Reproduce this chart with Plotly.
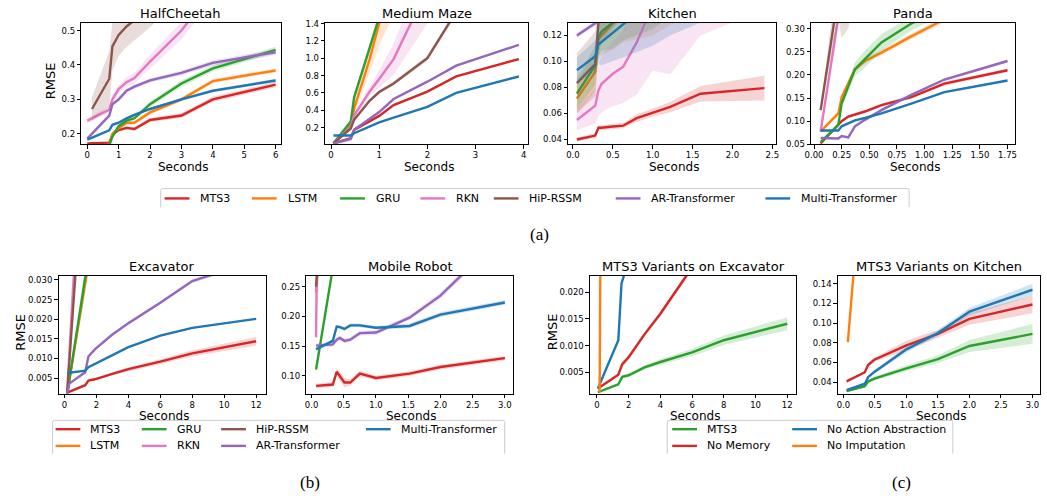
import plotly.graph_objects as go

# ---------------- colours ----------------
C_RED, C_ORANGE, C_GREEN, C_PINK = "#d62728", "#ff7f0e", "#2ca02c", "#e377c2"
C_BROWN, C_PURPLE, C_BLUE = "#8c564b", "#9467bd", "#1f77b4"

# ---------------- legend names ----------------
MODEL_NAMES = ["MTS3", "LSTM", "GRU", "RKN", "HiP-RSSM", "AR-Transformer", "Multi-Transformer"]
MODEL_COLORS = [C_RED, C_ORANGE, C_GREEN, C_PINK, C_BROWN, C_PURPLE, C_BLUE]
VARIANT_NAMES = ["MTS3", "No Memory", "No Action Abstraction", "No Imputation"]
VARIANT_COLORS = [C_GREEN, C_RED, C_BLUE, C_ORANGE]

# ---------------- HalfCheetah ----------------
HC_X = [0.0, 0.7, 0.8, 1.0, 1.25, 1.5, 2.0, 3.0, 4.0, 6.0]
HC_X_HIP = [0.15, 0.7, 0.8, 1.0, 1.25, 1.5, 2.0, 3.0, 4.0, 6.0]
HC_MTS3 = [0.172, 0.174, 0.197, 0.211, 0.217, 0.214, 0.240, 0.253, 0.300, 0.343]
HC_MTS3_SD = [0.003, 0.003, 0.004, 0.004, 0.005, 0.005, 0.006, 0.007, 0.008, 0.008]
HC_LSTM = [0.165, 0.166, 0.200, 0.216, 0.232, 0.232, 0.262, 0.300, 0.353, 0.384]
HC_LSTM_SD = [0.003, 0.003, 0.004, 0.005, 0.005, 0.005, 0.006, 0.006, 0.006, 0.006]
HC_GRU = [0.165, 0.166, 0.192, 0.222, 0.238, 0.245, 0.286, 0.346, 0.390, 0.444]
HC_GRU_SD = [0.003, 0.003, 0.004, 0.005, 0.006, 0.006, 0.008, 0.009, 0.009, 0.009]
HC_RKN = [0.238, 0.270, 0.300, 0.330, 0.350, 0.362, 0.410, 0.500, 0.620, 0.800]
HC_RKN_SD = [0.008, 0.010, 0.012, 0.012, 0.014, 0.015, 0.020, 0.025, 0.030, 0.040]
HC_HIP = [0.272, 0.360, 0.454, 0.487, 0.512, 0.530, 0.580, 0.680, 0.780, 0.980]
HC_HIP_SD = [0.035, 0.080, 0.070, 0.060, 0.060, 0.060, 0.070, 0.080, 0.090, 0.100]
HC_AR = [0.186, 0.253, 0.286, 0.300, 0.325, 0.337, 0.355, 0.377, 0.406, 0.437]
HC_AR_SD = [0.004, 0.005, 0.005, 0.006, 0.006, 0.006, 0.006, 0.007, 0.008, 0.008]
HC_MULTI = [0.183, 0.210, 0.226, 0.232, 0.245, 0.255, 0.272, 0.300, 0.325, 0.355]
HC_MULTI_SD = [0.003, 0.003, 0.004, 0.004, 0.004, 0.004, 0.004, 0.004, 0.004, 0.005]

# ---------------- Medium Maze ----------------
MM_X = [0.05, 0.41, 0.48, 0.8, 1.0, 1.3, 2.0, 2.6, 3.9]
MM_MTS3 = [0.02, 0.08, 0.175, 0.275, 0.336, 0.46, 0.615, 0.79, 0.99]
MM_MTS3_SD = [0.005, 0.008, 0.01, 0.01, 0.01, 0.01, 0.01, 0.01, 0.012]
MM_LSTM = [0.02, 0.23, 0.42, 0.985, 1.40, 1.90, 2.80, 3.40, 4.50]
MM_LSTM_SD = [0.01, 0.03, 0.06, 0.15, 0.25, 0.40, 0.50, 0.60, 0.70]
MM_GRU = [0.02, 0.27, 0.55, 1.12, 1.47, 2.00, 3.00, 3.60, 4.80]
MM_GRU_SD = [0.01, 0.02, 0.03, 0.04, 0.05, 0.06, 0.08, 0.10, 0.12]
MM_RKN = [0.02, 0.21, 0.34, 0.615, 0.76, 0.99, 1.80, 2.50, 3.50]
MM_RKN_SD = [0.01, 0.02, 0.03, 0.06, 0.10, 0.18, 0.40, 0.45, 0.50]
MM_HIP = [0.02, 0.19, 0.29, 0.51, 0.61, 0.71, 1.00, 1.54, 2.70]
MM_HIP_SD = [0.01, 0.015, 0.02, 0.02, 0.02, 0.025, 0.03, 0.04, 0.05]
MM_AR = [0.02, 0.07, 0.175, 0.30, 0.38, 0.53, 0.73, 0.915, 1.155]
MM_AR_SD = [0.02, 0.02, 0.015, 0.01, 0.01, 0.01, 0.01, 0.01, 0.012]
MM_MULTI = [0.11, 0.11, 0.136, 0.21, 0.26, 0.315, 0.44, 0.60, 0.79]
MM_MULTI_SD = [0.005, 0.005, 0.005, 0.005, 0.005, 0.005, 0.006, 0.006, 0.008]

# ---------------- Kitchen ----------------
KI_X = [0.05, 0.28, 0.32, 0.36, 0.5, 0.63, 0.8, 1.0, 1.22, 1.6, 2.4]
KI_MTS3 = [0.040, 0.043, 0.049, 0.049, 0.050, 0.0506, 0.0564, 0.0606, 0.065, 0.0752, 0.0795]
KI_MTS3_SD = [0.0015, 0.002, 0.002, 0.002, 0.002, 0.002, 0.003, 0.003, 0.004, 0.006, 0.0095]
KI_LSTM = [0.0714, 0.092, 0.117, 0.120, 0.129, 0.135, 0.142, 0.150, 0.158, 0.170, 0.190]
KI_LSTM_SD = [0.012, 0.015, 0.015, 0.015, 0.020, 0.020, 0.025, 0.030, 0.030, 0.030, 0.030]
KI_GRU = [0.0752, 0.097, 0.119, 0.123, 0.130, 0.136, 0.145, 0.155, 0.165, 0.180, 0.200]
KI_GRU_SD = [0.012, 0.015, 0.015, 0.015, 0.020, 0.020, 0.025, 0.030, 0.030, 0.030, 0.030]
KI_RKN = [0.055, 0.066, 0.0777, 0.0828, 0.0905, 0.096, 0.1146, 0.143, 0.150, 0.165, 0.190]
KI_RKN_SD = [0.008, 0.014, 0.020, 0.022, 0.025, 0.028, 0.040, 0.050, 0.060, 0.045, 0.050]
KI_HIP = [0.0833, 0.098, 0.130, 0.140, 0.155, 0.165, 0.175, 0.185, 0.190, 0.200, 0.210]
KI_HIP_SD = [0.023, 0.025, 0.025, 0.025, 0.030, 0.030, 0.030, 0.030, 0.030, 0.030, 0.030]
KI_AR = [0.120, 0.1295, 0.131, 0.134, 0.140, 0.145, 0.150, 0.155, 0.160, 0.170, 0.180]
KI_AR_SD = [0.002, 0.002, 0.002, 0.002, 0.003, 0.003, 0.003, 0.003, 0.003, 0.003, 0.003]
KI_MULTI = [0.0933, 0.104, 0.113, 0.115, 0.1224, 0.129, 0.137, 0.142, 0.150, 0.160, 0.175]
KI_MULTI_SD = [0.010, 0.012, 0.015, 0.018, 0.022, 0.026, 0.030, 0.030, 0.030, 0.030, 0.030]

# ---------------- Panda ----------------
PA_X = [0.06, 0.22, 0.25, 0.31, 0.37, 0.46, 0.61, 0.88, 1.18, 1.75]
PA_MTS3 = [0.052, 0.094, 0.100, 0.110, 0.1145, 0.121, 0.135, 0.152, 0.181, 0.210]
PA_MTS3_SD = [0.002, 0.002, 0.003, 0.003, 0.003, 0.003, 0.003, 0.003, 0.004, 0.004]
PA_LSTM = [0.078, 0.117, 0.152, 0.182, 0.212, 0.230, 0.248, 0.283, 0.320, 0.380]
PA_LSTM_SD = [0.003, 0.004, 0.005, 0.005, 0.005, 0.006, 0.006, 0.006, 0.006, 0.006]
PA_GRU = [0.055, 0.092, 0.138, 0.175, 0.212, 0.234, 0.270, 0.311, 0.340, 0.400]
PA_GRU_SD = [0.003, 0.005, 0.008, 0.012, 0.015, 0.018, 0.018, 0.015, 0.010, 0.010]
PA_RKN = [0.078, 0.330, 0.370, 0.420, 0.460, 0.500, 0.550, 0.600, 0.650, 0.700]
PA_RKN_SD = [0.003, 0.010, 0.010, 0.010, 0.010, 0.010, 0.010, 0.010, 0.010, 0.010]
PA_HIP = [0.124, 0.380, 0.420, 0.450, 0.480, 0.500, 0.530, 0.560, 0.600, 0.650]
PA_HIP_SD = [0.005, 0.060, 0.140, 0.150, 0.120, 0.100, 0.100, 0.100, 0.100, 0.100]
PA_AR = [0.064, 0.0627, 0.068, 0.065, 0.089, 0.103, 0.124, 0.157, 0.190, 0.230]
PA_AR_SD = [0.002, 0.002, 0.002, 0.002, 0.003, 0.003, 0.003, 0.003, 0.003, 0.003]
PA_MULTI = [0.080, 0.080, 0.089, 0.095, 0.102, 0.107, 0.117, 0.138, 0.163, 0.188]
PA_MULTI_SD = [0.002, 0.002, 0.002, 0.002, 0.002, 0.002, 0.002, 0.002, 0.002, 0.002]

# ---------------- Excavator ----------------
EX_X = [0.17, 1.3, 1.5, 1.9, 3.0, 4.0, 6.0, 8.0, 12.0]
EX_X_AR = [0.17, 0.3, 1.3, 1.5, 1.9, 3.0, 4.0, 6.0, 8.0, 12.0]
EX_MTS3 = [0.0013, 0.0032, 0.0044, 0.0047, 0.0061, 0.0073, 0.0092, 0.0113, 0.0144]
EX_MTS3_SD = [0.0002, 0.0003, 0.0003, 0.0003, 0.0004, 0.0005, 0.0006, 0.0008, 0.0011]
EX_LSTM = [0.0010, 0.0290, 0.0340, 0.0420, 0.0600, 0.0700, 0.0900, 0.1000, 0.1200]
EX_LSTM_SD = [0.0002, 0.0010, 0.0010, 0.0010, 0.0010, 0.0010, 0.0010, 0.0010, 0.0010]
EX_GRU = [0.0010, 0.0315, 0.0360, 0.0450, 0.0600, 0.0700, 0.0900, 0.1000, 0.1200]
EX_GRU_SD = [0.0002, 0.0010, 0.0010, 0.0010, 0.0010, 0.0010, 0.0010, 0.0010, 0.0010]
EX_RKN = [0.0010, 0.0830, 0.0900, 0.1000, 0.1200, 0.1300, 0.1500, 0.1700, 0.2000]
EX_RKN_SD = [0.0005, 0.0030, 0.0030, 0.0030, 0.0030, 0.0030, 0.0030, 0.0030, 0.0030]
EX_HIP = [0.0013, 0.0670, 0.0750, 0.0850, 0.1000, 0.1100, 0.1300, 0.1500, 0.1800]
EX_HIP_SD = [0.0003, 0.0020, 0.0020, 0.0020, 0.0020, 0.0020, 0.0020, 0.0020, 0.0020]
EX_AR = [0.0010, 0.0036, 0.0065, 0.0105, 0.0123, 0.0161, 0.0190, 0.0242, 0.0297, 0.0350]
EX_AR_SD = [0.0002, 0.0002, 0.0003, 0.0003, 0.0003, 0.0003, 0.0004, 0.0004, 0.0005, 0.0006]
EX_MULTI = [0.0063, 0.0069, 0.0078, 0.0086, 0.0107, 0.0129, 0.0158, 0.0178, 0.0201]
EX_MULTI_SD = [0.0002, 0.0002, 0.0002, 0.0002, 0.0002, 0.0002, 0.0002, 0.0002, 0.0002]

# ---------------- Mobile Robot ----------------
MR_X = [0.07, 0.33, 0.39, 0.44, 0.51, 0.6, 0.75, 1.0, 1.52, 2.0, 3.0]
MR_MTS3 = [0.0834, 0.0856, 0.107, 0.0995, 0.089, 0.089, 0.104, 0.0967, 0.104, 0.115, 0.130]
MR_MTS3_SD = [0.004, 0.004, 0.006, 0.008, 0.008, 0.005, 0.005, 0.004, 0.004, 0.004, 0.004]
MR_LSTM = [0.240, 1.200, 1.300, 1.400, 1.500, 1.600, 1.700, 1.800, 1.900, 2.000, 2.100]
MR_LSTM_SD = [0.005, 0.020, 0.020, 0.020, 0.020, 0.020, 0.020, 0.020, 0.020, 0.020, 0.020]
MR_GRU = [0.111, 0.284, 0.320, 0.350, 0.400, 0.450, 0.500, 0.550, 0.600, 0.650, 0.700]
MR_GRU_SD = [0.004, 0.006, 0.006, 0.006, 0.006, 0.006, 0.006, 0.006, 0.006, 0.006, 0.006]
MR_RKN = [0.165, 3.000, 3.100, 3.200, 3.300, 3.400, 3.500, 3.600, 3.700, 3.800, 3.900]
MR_RKN_SD = [0.010, 0.050, 0.050, 0.050, 0.050, 0.050, 0.050, 0.050, 0.050, 0.050, 0.050]
MR_HIP = [0.250, 1.500, 1.600, 1.700, 1.800, 1.900, 2.000, 2.100, 2.200, 2.300, 2.400]
MR_HIP_SD = [0.005, 0.020, 0.020, 0.020, 0.020, 0.020, 0.020, 0.020, 0.020, 0.020, 0.020]
MR_AR = [0.151, 0.153, 0.161, 0.164, 0.159, 0.161, 0.172, 0.173, 0.198, 0.235, 0.340]
MR_AR_SD = [0.004, 0.004, 0.004, 0.004, 0.004, 0.004, 0.004, 0.004, 0.004, 0.005, 0.006]
MR_MULTI = [0.145, 0.159, 0.183, 0.182, 0.179, 0.185, 0.185, 0.181, 0.184, 0.203, 0.2235]
MR_MULTI_SD = [0.003, 0.003, 0.003, 0.003, 0.003, 0.003, 0.003, 0.003, 0.004, 0.004, 0.004]

# ---------------- MTS3 variants on Excavator ----------------
VE_X = [0.06, 1.35, 1.6, 2.0, 3.0, 4.0, 6.0, 8.0, 12.0]
VE_X_NOACT = [0.06, 1.35, 1.55, 2.0, 3.0, 4.0, 6.0, 8.0, 12.0]
VE_X_NOIMP = [0.17, 1.35, 2.0, 4.0, 8.0, 12.0]
VE_MTS3 = [0.0012, 0.0027, 0.0041, 0.0044, 0.0059, 0.0069, 0.0087, 0.0110, 0.0141]
VE_MTS3_SD = [0.0002, 0.0003, 0.0003, 0.0003, 0.0004, 0.0005, 0.0007, 0.0009, 0.0012]
VE_NOMEM = [0.0019, 0.0045, 0.0065, 0.0078, 0.0121, 0.0160, 0.0247, 0.0320, 0.0450]
VE_NOMEM_SD = [0.0002, 0.0003, 0.0005, 0.0005, 0.0004, 0.0005, 0.0006, 0.0008, 0.0010]
VE_NOACT = [0.0019, 0.0110, 0.0217, 0.0260, 0.0300, 0.0350, 0.0400, 0.0450, 0.0500]
VE_NOACT_SD = [0.0001, 0.0002, 0.0002, 0.0002, 0.0002, 0.0002, 0.0002, 0.0002, 0.0002]
VE_NOIMP = [0.0012, 0.6000, 0.7000, 0.8000, 0.9000, 1.0000]
VE_NOIMP_SD = [0.0001, 0.0010, 0.0010, 0.0010, 0.0010, 0.0010]

# ---------------- MTS3 variants on Kitchen ----------------
VK_X = [0.05, 0.34, 0.39, 0.49, 1.0, 1.5, 2.0, 3.0]
VK_X_NOIMP = [0.07, 0.34, 1.0, 2.0, 3.0]
VK_MTS3 = [0.0307, 0.0357, 0.0405, 0.0434, 0.054, 0.0633, 0.0767, 0.089]
VK_MTS3_SD = [0.001, 0.0015, 0.0015, 0.002, 0.003, 0.004, 0.006, 0.010]
VK_NOMEM = [0.0407, 0.050, 0.0573, 0.0627, 0.0773, 0.089, 0.1043, 0.119]
VK_NOMEM_SD = [0.001, 0.0015, 0.002, 0.002, 0.005, 0.004, 0.006, 0.009]
VK_NOACT = [0.0317, 0.0383, 0.045, 0.0503, 0.0733, 0.090, 0.1117, 0.134]
VK_NOACT_SD = [0.001, 0.0015, 0.002, 0.002, 0.003, 0.003, 0.004, 0.006]
VK_NOIMP = [0.0807, 0.290, 0.600, 0.900, 1.200]
VK_NOIMP_SD = [0.002, 0.006, 0.010, 0.010, 0.010]

# ---------------- figure geometry (pixels) ----------------
W, H = 1047, 499


def hex_rgba(h, a):
    h = h.lstrip("#")
    return "rgba(%d,%d,%d,%.2f)" % (int(h[0:2], 16), int(h[2:4], 16), int(h[4:6], 16), a)


def px_x(p):
    return p / W


def px_y(p):
    return 1 - p / H


def ticks(start, stop, step, fmt):
    vals, v = [], start
    while v <= stop + step * 1e-6:
        vals.append(round(v, 6))
        v += step
    return vals, [fmt.format(t) for t in vals]


panels = [
    dict(title="HalfCheetah", xp=(76, 277), yp=(19, 143), xr=[-0.19, 6.16], yr=[0.169, 0.523],
         xt=ticks(0, 6, 1, "{:.0f}"), yt=ticks(0.2, 0.5, 0.1, "{:.1f}"), ylab=45,
         series=[(HC_X, HC_MTS3, HC_MTS3_SD, C_RED), (HC_X, HC_LSTM, HC_LSTM_SD, C_ORANGE),
                 (HC_X, HC_GRU, HC_GRU_SD, C_GREEN), (HC_X, HC_RKN, HC_RKN_SD, C_PINK),
                 (HC_X_HIP, HC_HIP, HC_HIP_SD, C_BROWN), (HC_X, HC_AR, HC_AR_SD, C_PURPLE),
                 (HC_X, HC_MULTI, HC_MULTI_SD, C_BLUE)]),
    dict(title="Medium Maze", xp=(322, 527), yp=(19, 143), xr=[-0.12, 4.1], yr=[0.007, 1.41],
         xt=ticks(0, 4, 1, "{:.0f}"), yt=ticks(0.2, 1.4, 0.2, "{:.1f}"), ylab=None,
         series=[(MM_X, MM_MTS3, MM_MTS3_SD, C_RED), (MM_X, MM_LSTM, MM_LSTM_SD, C_ORANGE),
                 (MM_X, MM_GRU, MM_GRU_SD, C_GREEN), (MM_X, MM_RKN, MM_RKN_SD, C_PINK),
                 (MM_X, MM_HIP, MM_HIP_SD, C_BROWN), (MM_X, MM_AR, MM_AR_SD, C_PURPLE),
                 (MM_X, MM_MULTI, MM_MULTI_SD, C_BLUE)]),
    dict(title="Kitchen", xp=(567, 777), yp=(19, 143), xr=[-0.06, 2.55], yr=[0.0362, 0.1298],
         xt=ticks(0, 2.5, 0.5, "{:.1f}"), yt=ticks(0.04, 0.12, 0.02, "{:.2f}"), ylab=None,
         series=[(KI_X, KI_MTS3, KI_MTS3_SD, C_RED), (KI_X, KI_LSTM, KI_LSTM_SD, C_ORANGE),
                 (KI_X, KI_GRU, KI_GRU_SD, C_GREEN), (KI_X, KI_RKN, KI_RKN_SD, C_PINK),
                 (KI_X, KI_HIP, KI_HIP_SD, C_BROWN), (KI_X, KI_AR, KI_AR_SD, C_PURPLE),
                 (KI_X, KI_MULTI, KI_MULTI_SD, C_BLUE)]),
    dict(title="Panda", xp=(812, 1018), yp=(19, 143), xr=[-0.027, 1.82], yr=[0.05, 0.3127],
         xt=ticks(0, 1.75, 0.25, "{:.2f}"), yt=ticks(0.05, 0.30, 0.05, "{:.2f}"), ylab=None,
         series=[(PA_X, PA_MTS3, PA_MTS3_SD, C_RED), (PA_X, PA_LSTM, PA_LSTM_SD, C_ORANGE),
                 (PA_X, PA_GRU, PA_GRU_SD, C_GREEN), (PA_X, PA_RKN, PA_RKN_SD, C_PINK),
                 (PA_X, PA_HIP, PA_HIP_SD, C_BROWN), (PA_X, PA_AR, PA_AR_SD, C_PURPLE),
                 (PA_X, PA_MULTI, PA_MULTI_SD, C_BLUE)]),
    dict(title="Excavator", xp=(53, 262), yp=(277, 397), xr=[-0.37, 12.6], yr=[0.001, 0.031],
         xt=ticks(0, 12, 2, "{:.0f}"), yt=ticks(0.005, 0.030, 0.005, "{:.3f}"), ylab=15,
         series=[(EX_X, EX_MTS3, EX_MTS3_SD, C_RED), (EX_X, EX_LSTM, EX_LSTM_SD, C_ORANGE),
                 (EX_X, EX_GRU, EX_GRU_SD, C_GREEN), (EX_X, EX_RKN, EX_RKN_SD, C_PINK),
                 (EX_X, EX_HIP, EX_HIP_SD, C_BROWN), (EX_X_AR, EX_AR, EX_AR_SD, C_PURPLE),
                 (EX_X, EX_MULTI, EX_MULTI_SD, C_BLUE)]),
    dict(title="Mobile Robot", xp=(303, 511), yp=(277, 397), xr=[-0.08, 3.12], yr=[0.07, 0.268],
         xt=ticks(0, 3.0, 0.5, "{:.1f}"), yt=ticks(0.10, 0.25, 0.05, "{:.2f}"), ylab=None,
         series=[(MR_X, MR_MTS3, MR_MTS3_SD, C_RED), (MR_X, MR_LSTM, MR_LSTM_SD, C_ORANGE),
                 (MR_X, MR_GRU, MR_GRU_SD, C_GREEN), (MR_X, MR_RKN, MR_RKN_SD, C_PINK),
                 (MR_X, MR_HIP, MR_HIP_SD, C_BROWN), (MR_X, MR_AR, MR_AR_SD, C_PURPLE),
                 (MR_X, MR_MULTI, MR_MULTI_SD, C_BLUE)]),
    dict(title="MTS3 Variants on Excavator", xp=(589, 797), yp=(277, 397), xr=[-0.44, 12.56],
         yr=[0.0009, 0.0231], xt=ticks(0, 12, 2, "{:.0f}"), yt=ticks(0.005, 0.020, 0.005, "{:.3f}"),
         ylab=552,
         series=[(VE_X, VE_MTS3, VE_MTS3_SD, C_GREEN), (VE_X, VE_NOMEM, VE_NOMEM_SD, C_RED),
                 (VE_X_NOACT, VE_NOACT, VE_NOACT_SD, C_BLUE),
                 (VE_X_NOIMP, VE_NOIMP, VE_NOIMP_SD, C_ORANGE)]),
    dict(title="MTS3 Variants on Kitchen", xp=(839, 1043), yp=(277, 397), xr=[-0.09, 3.12],
         yr=[0.028, 0.148], xt=ticks(0, 3.0, 0.5, "{:.1f}"), yt=ticks(0.04, 0.14, 0.02, "{:.2f}"),
         ylab=None,
         series=[(VK_X, VK_MTS3, VK_MTS3_SD, C_GREEN), (VK_X, VK_NOMEM, VK_NOMEM_SD, C_RED),
                 (VK_X, VK_NOACT, VK_NOACT_SD, C_BLUE),
                 (VK_X_NOIMP, VK_NOIMP, VK_NOIMP_SD, C_ORANGE)]),
]

FONT = "DejaVu Sans"
fig = go.Figure()
annotations, shapes = [], []
layout_axes = {}


def text_ann(text, cx, cy, size, angle=0, family=FONT, xanchor="center", yanchor="middle"):
    annotations.append(dict(text=text, x=px_x(cx), y=px_y(cy), xref="paper", yref="paper",
                            xanchor=xanchor, yanchor=yanchor, showarrow=False, textangle=angle,
                            font=dict(family=family, size=size, color="black")))


for i, p in enumerate(panels, start=1):
    xa = "x" if i == 1 else "x%d" % i
    ya = "y" if i == 1 else "y%d" % i
    for xs, ys, sd, col in p["series"]:
        up = [a + b for a, b in zip(ys, sd)]
        lo = [a - b for a, b in zip(ys, sd)]
        fig.add_trace(go.Scatter(x=list(xs) + list(xs)[::-1], y=up + lo[::-1], fill="toself",
                                 fillcolor=hex_rgba(col, 0.2), line=dict(width=0),
                                 mode="lines", hoverinfo="skip", showlegend=False,
                                 xaxis=xa, yaxis=ya))
        fig.add_trace(go.Scatter(x=xs, y=ys, mode="lines", line=dict(color=col, width=2.4),
                                 showlegend=False, xaxis=xa, yaxis=ya))
    axcommon = dict(showline=True, mirror=True, linecolor="black", linewidth=1,
                    ticks="outside", ticklen=3.5, tickwidth=0.8, tickcolor="black",
                    showgrid=False, zeroline=False,
                    tickfont=dict(family=FONT, size=8.5, color="black"))
    xv, xtxt = p["xt"]
    yv, ytxt = p["yt"]
    layout_axes["xaxis" if i == 1 else "xaxis%d" % i] = dict(
        axcommon, domain=[px_x(p["xp"][0]), px_x(p["xp"][1])], range=p["xr"],
        tickvals=xv, ticktext=xtxt, anchor=ya, ticklabelstandoff=-1)
    layout_axes["yaxis" if i == 1 else "yaxis%d" % i] = dict(
        axcommon, domain=[px_y(p["yp"][1]), px_y(p["yp"][0])], range=p["yr"],
        tickvals=yv, ticktext=ytxt, anchor=xa)
    cx = (p["xp"][0] + p["xp"][1]) / 2
    # subplot title
    text_ann(p["title"], cx, p["yp"][0] - 9.5, 13)
    # x-axis label
    text_ann("Seconds", cx + 2, p["yp"][1] + 22.5, 12)
    # y-axis label
    if p["ylab"] is not None:
        text_ann("RMSE", p["ylab"], (p["yp"][0] + p["yp"][1]) / 2 - 3, 13, angle=-90)


# ---------------- hand-drawn legends ----------------
def frame(x0, x1, y0, y1):
    r = 2
    path = "M %f %f L %f %f Q %f %f %f %f L %f %f Q %f %f %f %f L %f %f" % (
        px_x(x0), px_y(y1), px_x(x0), px_y(y0 + r), px_x(x0), px_y(y0), px_x(x0 + r), px_y(y0),
        px_x(x1 - r), px_y(y0), px_x(x1), px_y(y0), px_x(x1), px_y(y0 + r), px_x(x1), px_y(y1))
    shapes.append(dict(type="path", path=path, xref="paper", yref="paper",
                       line=dict(color="#cccccc", width=1)))


def entry(xl, yc, name, col, off):
    shapes.append(dict(type="line", xref="paper", yref="paper", x0=px_x(xl), x1=px_x(xl + 25),
                       y0=px_y(yc), y1=px_y(yc), line=dict(color=col, width=2.4)))
    text_ann(name, xl + off, yc, 11, xanchor="left")


frame(156, 911, 188, 207)
for xl, name, col in zip([160, 248, 337, 418, 492, 615, 766], MODEL_NAMES, MODEL_COLORS):
    entry(xl, 198, name, col, 34)

frame(47, 503, 424, 458)
for k, (name, col) in enumerate(zip(MODEL_NAMES, MODEL_COLORS)):
    entry([50, 137, 217, 363][k // 2], [433, 450][k % 2], name, col, 33)

frame(667, 955, 424, 458)
for k, (name, col) in enumerate(zip(VARIANT_NAMES, VARIANT_COLORS)):
    entry([672, 793][k // 2], [433, 450][k % 2], name, col, 33)

for lab, cx, cy in [("(a)", 538, 235), ("(b)", 307, 487), ("(c)", 903, 487)]:
    text_ann(lab, cx, cy, 17, family="Liberation Serif")

fig.update_layout(width=W, height=H, margin=dict(l=0, r=0, t=0, b=0),
                  paper_bgcolor="white", plot_bgcolor="white",
                  annotations=annotations, shapes=shapes, showlegend=False, **layout_axes)

fig.write_html("out.html", config={"displayModeBar": False},
               post_script="document.body.style.margin='0';document.body.style.overflow='hidden';")
